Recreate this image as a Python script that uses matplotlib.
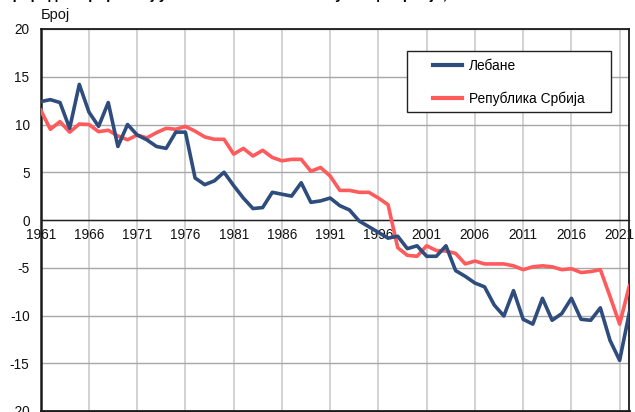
import matplotlib
matplotlib.use("Agg")
import matplotlib.pyplot as plt
from matplotlib.patches import Rectangle

years = list(range(1961, 2023))
lebane = [12.4, 12.6, 12.3, 9.6, 14.2, 11.3, 9.8, 12.3, 7.7, 10.0,
          8.9, 8.4, 7.7, 7.5, 9.2, 9.2, 4.4, 3.7, 4.1, 5.0,
          3.6, 2.3, 1.2, 1.3, 2.9, 2.7, 2.5, 3.9, 1.85, 2.0,
          2.3, 1.5, 1.05, -0.1, -0.7, -1.3, -1.9, -1.7, -3.0, -2.7,
          -3.8, -3.8, -2.7, -5.3, -5.9, -6.6, -7.0, -8.9, -10.05, -7.4,
          -10.4, -10.9, -8.2, -10.5, -9.8, -8.2, -10.4, -10.5, -9.2, -12.6,
          -14.7, -9.7]
srbija = [11.5, 9.5, 10.3, 9.2, 10.05, 10.0, 9.25, 9.4, 8.8, 8.4,
          8.9, 8.6, 9.15, 9.6, 9.5, 9.8, 9.3, 8.7, 8.45, 8.45,
          6.9, 7.5, 6.7, 7.3, 6.55, 6.2, 6.35, 6.35, 5.1, 5.5,
          4.6, 3.1, 3.1, 2.9, 2.9, 2.3, 1.6, -2.9, -3.7, -3.8,
          -2.7, -3.2, -3.25, -3.5, -4.6, -4.3, -4.6, -4.6, -4.6, -4.8,
          -5.2, -4.9, -4.8, -4.9, -5.2, -5.1, -5.5, -5.4, -5.2, -8.0,
          -10.9, -6.9]
xticks = list(range(1961, 2022, 5))
yticks = list(range(-20, 21, 5))
series_names = ["Лебане", "Република Србија"]
title = "Природни прираштај у општини Лебане и Републици Србији, 1961–2022"

plt.rcParams['font.family'] = ['Liberation Sans', 'DejaVu Sans']
plt.rcParams['axes.unicode_minus'] = False

W, H = 635, 412
fig = plt.figure(figsize=(W / 100, H / 100), dpi=100)
left, right, top, bottom = 40.7, 629.3, 29, 411
ax = fig.add_axes([left / W, 1 - bottom / H, (right - left) / W, (bottom - top) / H])

ax.set_xlim(1961, 2022)
ax.set_ylim(-20, 20)

ax.plot(years, lebane, color='#2e4d7d', lw=2.6, solid_joinstyle='round', label=series_names[0], zorder=4)
ax.plot(years, srbija, color='#ff5a5c', lw=2.6, solid_joinstyle='round', label=series_names[1], zorder=3)

ax.set_xticks(xticks)
ax.set_yticks(yticks)
ax.grid(True, axis='x', color='#c8c8c8', lw=1.1, zorder=0)
ax.grid(True, axis='y', color='#a8a8a8', lw=1.0, zorder=0)
ax.set_axisbelow(True)

ax.spines['bottom'].set_position(('data', 0))
ax.spines['bottom'].set_color('#222222')
ax.spines['bottom'].set_linewidth(1.0)
for s in ['left', 'right', 'top']:
    ax.spines[s].set_color('#1a1a1a')
    ax.spines[s].set_linewidth(1.3)
ax.spines['left'].set_linewidth(1.8)
ax.axhline(-20, color='#1a1a1a', lw=2.0, clip_on=False, zorder=5)

ax.tick_params(axis='both', length=0, labelsize=9.8, colors='#111111')
ax.tick_params(axis='x', pad=6)
ax.tick_params(axis='y', pad=8)

def fx(px):
    return px / W

def fy(py):
    return 1 - py / H

# legend frame
frame = Rectangle((fx(407), fy(112)), fx(611) - fx(407), fy(51) - fy(112),
                  transform=fig.transFigure, facecolor='white', edgecolor='#222222',
                  lw=1.0, zorder=6)
fig.add_artist(frame)
leg = fig.legend(loc='center left', bbox_to_anchor=(fx(433), fy(82)),
                 frameon=False, fontsize=9.9, handlelength=2.1, handletextpad=0.5,
                 labelspacing=1.35, borderpad=0, borderaxespad=0)
leg.set_zorder(7)
for h in leg.get_lines():
    h.set_linewidth(3)

fig.text(fx(41), fy(15), "Број", fontsize=10.5, ha='left', va='center', color='#111111')
fig.text(fx(2), fy(-1), title, fontsize=10.5, fontweight='bold', ha='left', va='baseline')

fig.savefig("out.png", dpi=100)
